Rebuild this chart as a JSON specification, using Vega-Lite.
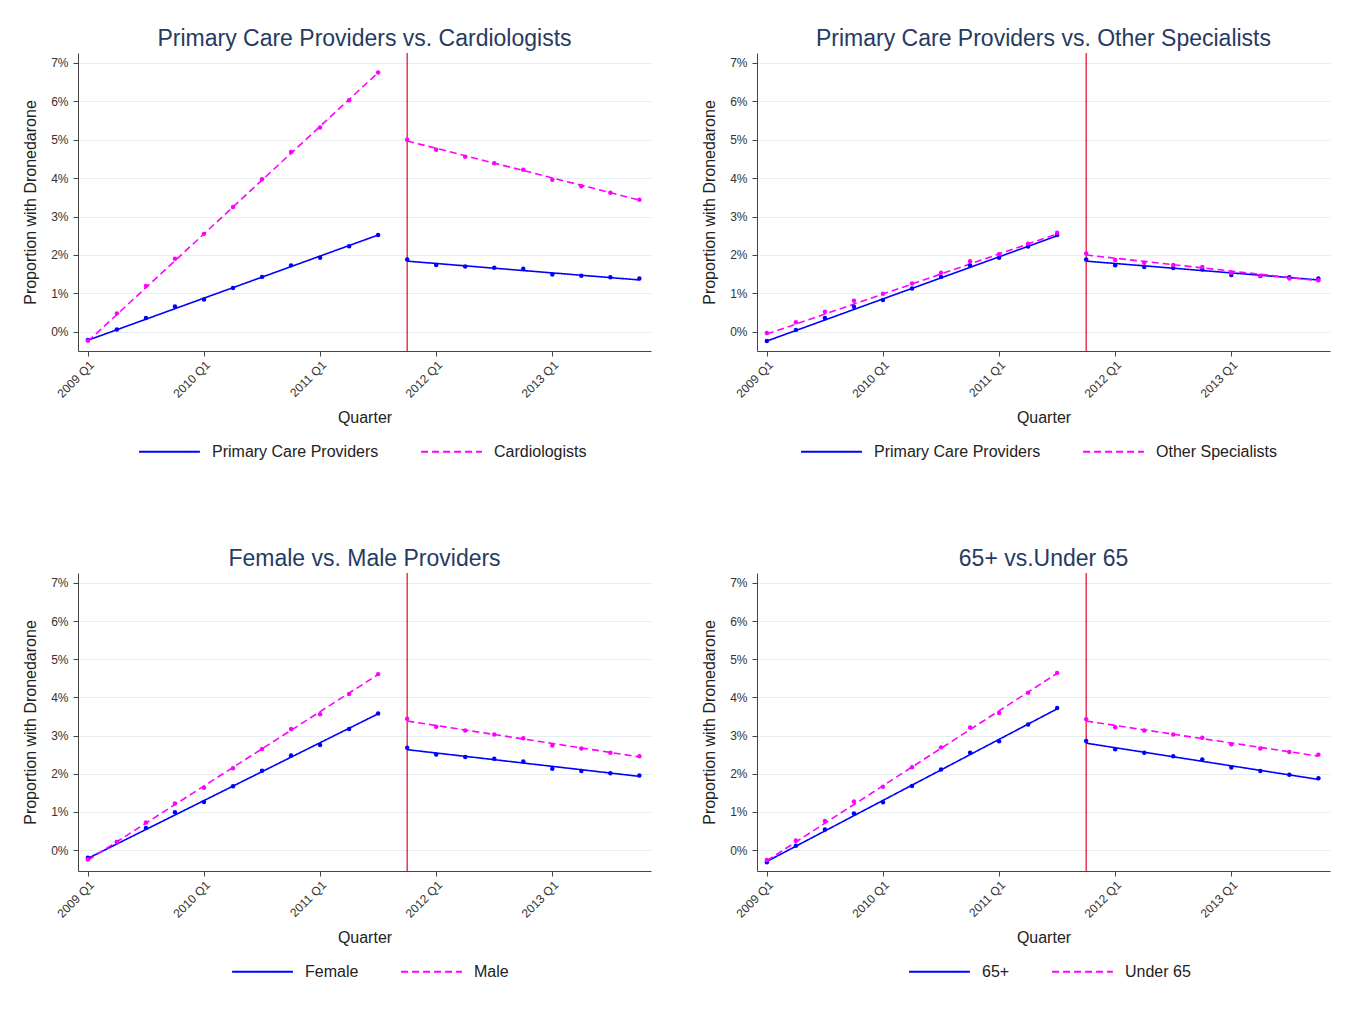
{
  "$schema": "https://vega.github.io/schema/vega-lite/v6.json",
  "background": "white",
  "padding": {"left": 22, "top": 28, "right": 5, "bottom": 5},
  "config": {
    "font": "Liberation Sans",
    "view": {"stroke": null},
    "title": {"fontSize": 23, "fontWeight": "normal", "color": "#263b62", "offset": 1, "anchor": "middle"},
    "axis": {"labelFont": "Liberation Sans", "labelFontSize": 12, "labelColor": "#333", "titleFont": "Liberation Sans", "titleFontSize": 16, "titleFontWeight": "normal", "titleColor": "#222", "domainColor": "#444", "tickColor": "#444", "tickSize": 5, "gridColor": "#e6eef3", "gridWidth": 1},
    "legend": {"labelFont": "Liberation Sans", "labelFontSize": 16, "labelColor": "#222", "labelLimit": 0}
  },
  "datasets": {
    "pts": [
      {"p":"A","t":2009.00,"a":-0.21,"b":-0.23},{"p":"A","t":2009.25,"a":0.06,"b":0.48},{"p":"A","t":2009.50,"a":0.36,"b":1.19},{"p":"A","t":2009.75,"a":0.66,"b":1.90},{"p":"A","t":2010.00,"a":0.84,"b":2.55},{"p":"A","t":2010.25,"a":1.14,"b":3.25},{"p":"A","t":2010.50,"a":1.43,"b":3.97},{"p":"A","t":2010.75,"a":1.73,"b":4.68},{"p":"A","t":2011.00,"a":1.93,"b":5.32},{"p":"A","t":2011.25,"a":2.23,"b":6.03},{"p":"A","t":2011.50,"a":2.52,"b":6.75},
      {"p":"A","t":2011.75,"a":1.88,"b":5.00},{"p":"A","t":2012.00,"a":1.74,"b":4.74},{"p":"A","t":2012.25,"a":1.70,"b":4.56},{"p":"A","t":2012.50,"a":1.67,"b":4.39},{"p":"A","t":2012.75,"a":1.64,"b":4.22},{"p":"A","t":2013.00,"a":1.49,"b":3.96},{"p":"A","t":2013.25,"a":1.46,"b":3.79},{"p":"A","t":2013.50,"a":1.42,"b":3.62},{"p":"A","t":2013.75,"a":1.39,"b":3.44},
      {"p":"B","t":2009.00,"a":-0.24,"b":-0.03},{"p":"B","t":2009.25,"a":0.05,"b":0.25},{"p":"B","t":2009.50,"a":0.36,"b":0.52},{"p":"B","t":2009.75,"a":0.65,"b":0.81},{"p":"B","t":2010.00,"a":0.83,"b":0.99},{"p":"B","t":2010.25,"a":1.13,"b":1.26},{"p":"B","t":2010.50,"a":1.43,"b":1.54},{"p":"B","t":2010.75,"a":1.73,"b":1.84},{"p":"B","t":2011.00,"a":1.93,"b":2.02},{"p":"B","t":2011.25,"a":2.22,"b":2.29},{"p":"B","t":2011.50,"a":2.52,"b":2.58},
      {"p":"B","t":2011.75,"a":1.88,"b":2.04},{"p":"B","t":2012.00,"a":1.73,"b":1.87},{"p":"B","t":2012.25,"a":1.69,"b":1.80},{"p":"B","t":2012.50,"a":1.66,"b":1.74},{"p":"B","t":2012.75,"a":1.62,"b":1.69},{"p":"B","t":2013.00,"a":1.48,"b":1.54},{"p":"B","t":2013.25,"a":1.45,"b":1.46},{"p":"B","t":2013.50,"a":1.42,"b":1.39},{"p":"B","t":2013.75,"a":1.39,"b":1.34},
      {"p":"C","t":2009.00,"a":-0.20,"b":-0.25},{"p":"C","t":2009.25,"a":0.21,"b":0.21},{"p":"C","t":2009.50,"a":0.58,"b":0.72},{"p":"C","t":2009.75,"a":0.99,"b":1.22},{"p":"C","t":2010.00,"a":1.26,"b":1.63},{"p":"C","t":2010.25,"a":1.67,"b":2.14},{"p":"C","t":2010.50,"a":2.08,"b":2.65},{"p":"C","t":2010.75,"a":2.48,"b":3.17},{"p":"C","t":2011.00,"a":2.75,"b":3.56},{"p":"C","t":2011.25,"a":3.17,"b":4.09},{"p":"C","t":2011.50,"a":3.58,"b":4.61},
      {"p":"C","t":2011.75,"a":2.68,"b":3.44},{"p":"C","t":2012.00,"a":2.50,"b":3.23},{"p":"C","t":2012.25,"a":2.44,"b":3.13},{"p":"C","t":2012.50,"a":2.39,"b":3.03},{"p":"C","t":2012.75,"a":2.32,"b":2.93},{"p":"C","t":2013.00,"a":2.13,"b":2.74},{"p":"C","t":2013.25,"a":2.07,"b":2.66},{"p":"C","t":2013.50,"a":2.01,"b":2.55},{"p":"C","t":2013.75,"a":1.95,"b":2.46},
      {"p":"D","t":2009.00,"a":-0.32,"b":-0.26},{"p":"D","t":2009.25,"a":0.11,"b":0.25},{"p":"D","t":2009.50,"a":0.54,"b":0.76},{"p":"D","t":2009.75,"a":0.96,"b":1.27},{"p":"D","t":2010.00,"a":1.25,"b":1.66},{"p":"D","t":2010.25,"a":1.68,"b":2.17},{"p":"D","t":2010.50,"a":2.11,"b":2.69},{"p":"D","t":2010.75,"a":2.55,"b":3.21},{"p":"D","t":2011.00,"a":2.85,"b":3.59},{"p":"D","t":2011.25,"a":3.29,"b":4.12},{"p":"D","t":2011.50,"a":3.72,"b":4.64},
      {"p":"D","t":2011.75,"a":2.86,"b":3.43},{"p":"D","t":2012.00,"a":2.64,"b":3.22},{"p":"D","t":2012.25,"a":2.55,"b":3.13},{"p":"D","t":2012.50,"a":2.46,"b":3.03},{"p":"D","t":2012.75,"a":2.37,"b":2.94},{"p":"D","t":2013.00,"a":2.16,"b":2.77},{"p":"D","t":2013.25,"a":2.07,"b":2.66},{"p":"D","t":2013.50,"a":1.97,"b":2.57},{"p":"D","t":2013.75,"a":1.88,"b":2.50}
    ],
    "fit": [
      {"p":"A","seg":1,"t":2009.00,"a":-0.22,"b":-0.25},{"p":"A","seg":1,"t":2011.50,"a":2.52,"b":6.75},{"p":"A","seg":2,"t":2011.75,"a":1.84,"b":4.97},{"p":"A","seg":2,"t":2013.75,"a":1.35,"b":3.43},
      {"p":"B","seg":1,"t":2009.00,"a":-0.24,"b":-0.06},{"p":"B","seg":1,"t":2011.50,"a":2.50,"b":2.55},{"p":"B","seg":2,"t":2011.75,"a":1.84,"b":2.00},{"p":"B","seg":2,"t":2013.75,"a":1.35,"b":1.33},
      {"p":"C","seg":1,"t":2009.00,"a":-0.22,"b":-0.27},{"p":"C","seg":1,"t":2011.50,"a":3.57,"b":4.60},{"p":"C","seg":2,"t":2011.75,"a":2.63,"b":3.38},{"p":"C","seg":2,"t":2013.75,"a":1.93,"b":2.44},
      {"p":"D","seg":1,"t":2009.00,"a":-0.30,"b":-0.28},{"p":"D","seg":1,"t":2011.50,"a":3.70,"b":4.63},{"p":"D","seg":2,"t":2011.75,"a":2.80,"b":3.38},{"p":"D","seg":2,"t":2013.75,"a":1.85,"b":2.46}
    ],
    "cut": [{"t": 2011.75}]
  },
  "resolve": {"scale": {"color": "independent", "strokeDash": "independent"}, "legend": {"color": "independent", "strokeDash": "independent"}},
  "bounds": "full",
  "spacing": 88,
  "vconcat": [
    {
      "bounds": "flush",
      "spacing": 106,
      "resolve": {"scale": {"color": "independent", "strokeDash": "independent"}, "legend": {"color": "independent", "strokeDash": "independent"}},
      "hconcat": [
        {
          "width": 573, "height": 298,
          "title": "Primary Care Providers vs. Cardiologists",
          "encoding": {
            "x": {"field": "t", "type": "quantitative", "scale": {"domain": [2008.915, 2013.85], "nice": false, "zero": false}, "axis": {"values": [2009, 2010, 2011, 2012, 2013], "labelExpr": "datum.value + ' Q1'", "title": "Quarter", "labelAngle": -45, "grid": false, "labelPadding": 3, "titlePadding": 10}},
            "y": {"field": "v", "type": "quantitative", "scale": {"domain": [-0.5, 7.26], "nice": false, "zero": false}, "axis": {"values": [0, 1, 2, 3, 4, 5, 6, 7], "labelExpr": "datum.value + '%'", "title": "Proportion with Dronedarone", "grid": true, "labelPadding": 5, "titlePadding": 12}}
          },
          "layer": [
            {"data": {"name": "cut"}, "mark": {"type": "rule", "color": "#e2062c", "strokeWidth": 1.2}, "encoding": {"y": null}},
            {"data": {"name": "fit"}, "transform": [{"filter": "datum.p == 'A'"}, {"fold": ["a", "b"], "as": ["k", "v"]}],
             "mark": {"type": "line", "strokeWidth": 1.6},
             "encoding": {"detail": {"field": "seg"},
               "color": {"field": "k", "type": "nominal", "scale": {"domain": ["a", "b"], "range": ["#0000ff", "#ff00ff"]}, "legend": {"orient": "none", "legendX": 60, "legendY": 367, "direction": "horizontal", "title": null, "symbolType": "stroke", "symbolSize": 3700, "symbolStrokeWidth": 2, "columnPadding": 38, "labelOffset": 11, "labelExpr": "datum.value == 'a' ? 'Primary Care Providers' : 'Cardiologists'"}},
               "strokeDash": {"field": "k", "type": "nominal", "scale": {"domain": ["a", "b"], "range": [[1, 0], [7, 4]]}, "legend": {"orient": "none", "legendX": 60, "legendY": 367, "direction": "horizontal", "title": null, "symbolType": "stroke", "symbolSize": 3700, "symbolStrokeWidth": 2, "columnPadding": 38, "labelOffset": 11, "labelExpr": "datum.value == 'a' ? 'Primary Care Providers' : 'Cardiologists'"}}}},
            {"data": {"name": "pts"}, "transform": [{"filter": "datum.p == 'A'"}, {"fold": ["a", "b"], "as": ["k", "v"]}],
             "mark": {"type": "circle", "size": 20, "opacity": 1},
             "encoding": {"color": {"field": "k", "type": "nominal", "scale": {"domain": ["a", "b"], "range": ["#0000ff", "#ff00ff"]}}}}
          ]
        },
        {
          "width": 573, "height": 298,
          "title": "Primary Care Providers vs. Other Specialists",
          "encoding": {
            "x": {"field": "t", "type": "quantitative", "scale": {"domain": [2008.915, 2013.85], "nice": false, "zero": false}, "axis": {"values": [2009, 2010, 2011, 2012, 2013], "labelExpr": "datum.value + ' Q1'", "title": "Quarter", "labelAngle": -45, "grid": false, "labelPadding": 3, "titlePadding": 10}},
            "y": {"field": "v", "type": "quantitative", "scale": {"domain": [-0.5, 7.26], "nice": false, "zero": false}, "axis": {"values": [0, 1, 2, 3, 4, 5, 6, 7], "labelExpr": "datum.value + '%'", "title": "Proportion with Dronedarone", "grid": true, "labelPadding": 5, "titlePadding": 12}}
          },
          "layer": [
            {"data": {"name": "cut"}, "mark": {"type": "rule", "color": "#e2062c", "strokeWidth": 1.2}, "encoding": {"y": null}},
            {"data": {"name": "fit"}, "transform": [{"filter": "datum.p == 'B'"}, {"fold": ["a", "b"], "as": ["k", "v"]}],
             "mark": {"type": "line", "strokeWidth": 1.6},
             "encoding": {"detail": {"field": "seg"},
               "color": {"field": "k", "type": "nominal", "scale": {"domain": ["a", "b"], "range": ["#0000ff", "#ff00ff"]}, "legend": {"orient": "none", "legendX": 43, "legendY": 367, "direction": "horizontal", "title": null, "symbolType": "stroke", "symbolSize": 3700, "symbolStrokeWidth": 2, "columnPadding": 38, "labelOffset": 11, "labelExpr": "datum.value == 'a' ? 'Primary Care Providers' : 'Other Specialists'"}},
               "strokeDash": {"field": "k", "type": "nominal", "scale": {"domain": ["a", "b"], "range": [[1, 0], [7, 4]]}, "legend": {"orient": "none", "legendX": 43, "legendY": 367, "direction": "horizontal", "title": null, "symbolType": "stroke", "symbolSize": 3700, "symbolStrokeWidth": 2, "columnPadding": 38, "labelOffset": 11, "labelExpr": "datum.value == 'a' ? 'Primary Care Providers' : 'Other Specialists'"}}}},
            {"data": {"name": "pts"}, "transform": [{"filter": "datum.p == 'B'"}, {"fold": ["a", "b"], "as": ["k", "v"]}],
             "mark": {"type": "circle", "size": 20, "opacity": 1},
             "encoding": {"color": {"field": "k", "type": "nominal", "scale": {"domain": ["a", "b"], "range": ["#0000ff", "#ff00ff"]}}}}
          ]
        }
      ]
    },
    {
      "bounds": "flush",
      "spacing": 106,
      "resolve": {"scale": {"color": "independent", "strokeDash": "independent"}, "legend": {"color": "independent", "strokeDash": "independent"}},
      "hconcat": [
        {
          "width": 573, "height": 298,
          "title": "Female vs. Male Providers",
          "encoding": {
            "x": {"field": "t", "type": "quantitative", "scale": {"domain": [2008.915, 2013.85], "nice": false, "zero": false}, "axis": {"values": [2009, 2010, 2011, 2012, 2013], "labelExpr": "datum.value + ' Q1'", "title": "Quarter", "labelAngle": -45, "grid": false, "labelPadding": 3, "titlePadding": 10}},
            "y": {"field": "v", "type": "quantitative", "scale": {"domain": [-0.55, 7.26], "nice": false, "zero": false}, "axis": {"values": [0, 1, 2, 3, 4, 5, 6, 7], "labelExpr": "datum.value + '%'", "title": "Proportion with Dronedarone", "grid": true, "labelPadding": 5, "titlePadding": 12}}
          },
          "layer": [
            {"data": {"name": "cut"}, "mark": {"type": "rule", "color": "#e2062c", "strokeWidth": 1.2}, "encoding": {"y": null}},
            {"data": {"name": "fit"}, "transform": [{"filter": "datum.p == 'C'"}, {"fold": ["a", "b"], "as": ["k", "v"]}],
             "mark": {"type": "line", "strokeWidth": 1.6},
             "encoding": {"detail": {"field": "seg"},
               "color": {"field": "k", "type": "nominal", "scale": {"domain": ["a", "b"], "range": ["#0000ff", "#ff00ff"]}, "legend": {"orient": "none", "legendX": 153, "legendY": 367, "direction": "horizontal", "title": null, "symbolType": "stroke", "symbolSize": 3700, "symbolStrokeWidth": 2, "columnPadding": 38, "labelOffset": 11, "labelExpr": "datum.value == 'a' ? 'Female' : 'Male'"}},
               "strokeDash": {"field": "k", "type": "nominal", "scale": {"domain": ["a", "b"], "range": [[1, 0], [7, 4]]}, "legend": {"orient": "none", "legendX": 153, "legendY": 367, "direction": "horizontal", "title": null, "symbolType": "stroke", "symbolSize": 3700, "symbolStrokeWidth": 2, "columnPadding": 38, "labelOffset": 11, "labelExpr": "datum.value == 'a' ? 'Female' : 'Male'"}}}},
            {"data": {"name": "pts"}, "transform": [{"filter": "datum.p == 'C'"}, {"fold": ["a", "b"], "as": ["k", "v"]}],
             "mark": {"type": "circle", "size": 20, "opacity": 1},
             "encoding": {"color": {"field": "k", "type": "nominal", "scale": {"domain": ["a", "b"], "range": ["#0000ff", "#ff00ff"]}}}}
          ]
        },
        {
          "width": 573, "height": 298,
          "title": "65+ vs.Under 65",
          "encoding": {
            "x": {"field": "t", "type": "quantitative", "scale": {"domain": [2008.915, 2013.85], "nice": false, "zero": false}, "axis": {"values": [2009, 2010, 2011, 2012, 2013], "labelExpr": "datum.value + ' Q1'", "title": "Quarter", "labelAngle": -45, "grid": false, "labelPadding": 3, "titlePadding": 10}},
            "y": {"field": "v", "type": "quantitative", "scale": {"domain": [-0.55, 7.26], "nice": false, "zero": false}, "axis": {"values": [0, 1, 2, 3, 4, 5, 6, 7], "labelExpr": "datum.value + '%'", "title": "Proportion with Dronedarone", "grid": true, "labelPadding": 5, "titlePadding": 12}}
          },
          "layer": [
            {"data": {"name": "cut"}, "mark": {"type": "rule", "color": "#e2062c", "strokeWidth": 1.2}, "encoding": {"y": null}},
            {"data": {"name": "fit"}, "transform": [{"filter": "datum.p == 'D'"}, {"fold": ["a", "b"], "as": ["k", "v"]}],
             "mark": {"type": "line", "strokeWidth": 1.6},
             "encoding": {"detail": {"field": "seg"},
               "color": {"field": "k", "type": "nominal", "scale": {"domain": ["a", "b"], "range": ["#0000ff", "#ff00ff"]}, "legend": {"orient": "none", "legendX": 151, "legendY": 367, "direction": "horizontal", "title": null, "symbolType": "stroke", "symbolSize": 3700, "symbolStrokeWidth": 2, "columnPadding": 38, "labelOffset": 11, "labelExpr": "datum.value == 'a' ? '65+' : 'Under 65'"}},
               "strokeDash": {"field": "k", "type": "nominal", "scale": {"domain": ["a", "b"], "range": [[1, 0], [7, 4]]}, "legend": {"orient": "none", "legendX": 151, "legendY": 367, "direction": "horizontal", "title": null, "symbolType": "stroke", "symbolSize": 3700, "symbolStrokeWidth": 2, "columnPadding": 38, "labelOffset": 11, "labelExpr": "datum.value == 'a' ? '65+' : 'Under 65'"}}}},
            {"data": {"name": "pts"}, "transform": [{"filter": "datum.p == 'D'"}, {"fold": ["a", "b"], "as": ["k", "v"]}],
             "mark": {"type": "circle", "size": 20, "opacity": 1},
             "encoding": {"color": {"field": "k", "type": "nominal", "scale": {"domain": ["a", "b"], "range": ["#0000ff", "#ff00ff"]}}}}
          ]
        }
      ]
    }
  ]
}
